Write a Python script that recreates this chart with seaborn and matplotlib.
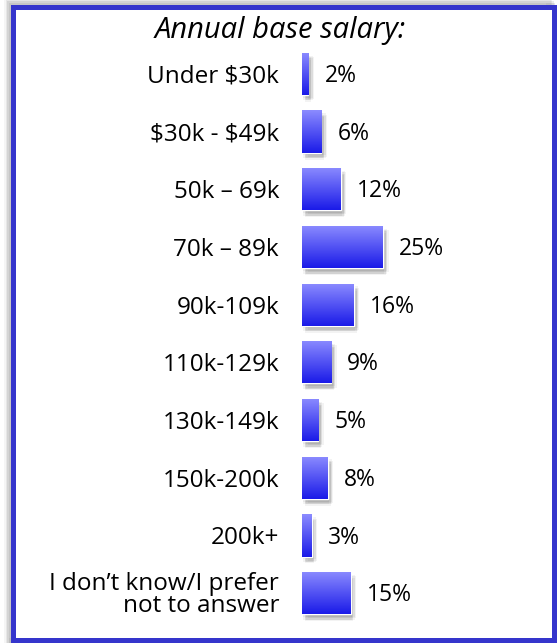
import numpy as np
import pandas as pd
import matplotlib
matplotlib.use("Agg")
import matplotlib.pyplot as plt
import matplotlib.patheffects as pe
from matplotlib.colors import LinearSegmentedColormap
from matplotlib.patches import Rectangle
import seaborn as sns

categories = ["Under $30k", "$30k - $49k", "50k \u2013 69k", "70k \u2013 89k",
              "90k-109k", "110k-129k", "130k-149k", "150k-200k", "200k+",
              "I don\u2019t know/I prefer\nnot to answer"]
shares = [2, 6, 12, 25, 16, 9, 5, 8, 3, 15]
title = "Annual base salary:"

sns.set_theme(style="white")
plt.rcParams["font.family"] = ["Open Sans", "DejaVu Sans"]

W, H = 558, 643
fig = plt.figure(figsize=(W / 100, H / 100), dpi=100)
fig.patch.set_facecolor("white")

# Frame around the whole panel, with a soft grey drop shadow
for i, a in enumerate([0.10, 0.08, 0.06, 0.04]):
    off = 2 + i * 1.5
    fig.add_artist(Rectangle(((12.5 - off) / W, (H - 640) / H),
                             (554 - 12.5) / W, (640 - 6.5 + off) / H,
                             transform=fig.transFigure, fill=False,
                             edgecolor="black", alpha=a, linewidth=3.6,
                             zorder=0))
fig.add_artist(Rectangle((12.5 / W, (H - 640) / H), (554 - 12.5) / W,
                         (640 - 6.5) / H, transform=fig.transFigure,
                         fill=True, facecolor="white", edgecolor="#3535CC",
                         linewidth=3.6, zorder=1))

df = pd.DataFrame({"category": range(len(categories)), "share": shares})

top_px, bot_px = 45, 622
left_px = 302
px_per_pct = 3.24
xmax = 78
ax = fig.add_axes([left_px / W, 1 - bot_px / H,
                   xmax * px_per_pct / W, (bot_px - top_px) / H])
ax.set_zorder(2)
ax.patch.set_alpha(0)

sns.barplot(data=df, x="share", y="category", orient="h", ax=ax,
            color="#5555FF", width=0.73, saturation=1)

ax.set_xlim(0, xmax)
ax.set_ylim(len(categories) - 0.5, -0.5)

cmap = LinearSegmentedColormap.from_list("bar", ["#8C8CFF", "#1A1AE8"])
grad = np.linspace(0, 1, 256).reshape(-1, 1)
# soft blurred shadow built from several faint offset copies
shadow = [pe.SimplePatchShadow(offset=(dx, dy), shadow_rgbFace="#555555",
                               alpha=0.07)
          for dx, dy in [(1, -2), (2, -3), (3, -4), (2, -4), (3, -2),
                         (1, -4), (4, -3), (2, -5)]]
for patch in ax.patches:
    patch.set_path_effects(shadow + [pe.Normal()])
    x0, y0 = patch.get_x(), patch.get_y()
    w, h = patch.get_width(), patch.get_height()
    im = ax.imshow(grad, cmap=cmap, aspect="auto",
                   extent=(x0, x0 + w, y0 + h, y0), zorder=3,
                   interpolation="bicubic")
    im.set_clip_path(patch)
    ax.set_xlim(0, xmax)
    ax.set_ylim(len(categories) - 0.5, -0.5)

ax.set_yticks(range(len(categories)))
ax.set_yticklabels([c.replace("$", r"\$") for c in categories],
                   fontsize=17.5, color="black", linespacing=0.9)
ax.tick_params(axis="y", length=0, pad=16.5)
ax.set_xticks([])
ax.set_xlabel("")
ax.set_ylabel("")
for s in ax.spines.values():
    s.set_visible(False)

for i, v in enumerate(shares):
    ax.annotate(f"{v}%", xy=(v, i), xytext=(11.5, -1.5),
                textcoords="offset points", ha="left", va="center",
                fontsize=16.5, color="black", zorder=5)

fig.text(280 / W, 1 - 38 / H, title, ha="center", va="baseline",
         fontsize=21, fontstyle="italic", color="black", zorder=5)

fig.savefig("out.png", dpi=100, facecolor="white")
